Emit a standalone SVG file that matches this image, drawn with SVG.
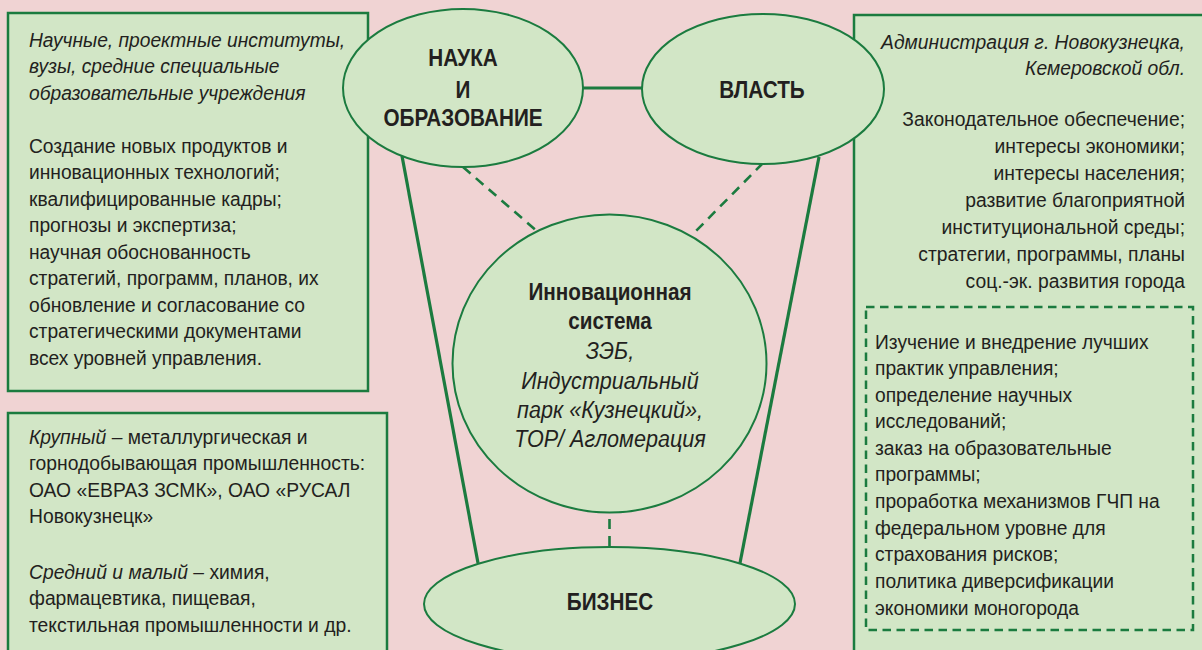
<svg xmlns="http://www.w3.org/2000/svg" width="1202" height="650" viewBox="0 0 1202 650">
<style>
.bg{fill:#f0d3d3}
.box{fill:#d2e6c6;stroke:#1b7b3f;stroke-width:2.5}
.node{fill:#d2e6c6;stroke:#1b7b3f;stroke-width:2}
.dbox{fill:none;stroke:#1b7b3f;stroke-width:2.5;stroke-dasharray:8.5 5.5}
.solid{stroke:#1b7b3f;stroke-width:3.2;fill:none}
.dash{stroke:#1b7b3f;stroke-width:2.6;fill:none;stroke-dasharray:10 7}
text{font-family:"Liberation Sans",Arial,sans-serif;fill:#231f20}
.t{font-size:21px}
.i{font-style:italic}
.b{font-weight:bold;font-size:23px}
.e{text-anchor:end}
.m{text-anchor:middle}
</style>
<rect class="bg" x="0" y="0" width="1202" height="650"/>
<g id="box-science">
<rect class="box" x="8" y="13" width="360" height="378"/>
<text class="t" transform="translate(29 0) scale(0.915 1)"><tspan class="i" x="0" y="47">Научные, проектные институты,</tspan><tspan class="i" x="0" y="73.5">вузы, средние специальные</tspan><tspan class="i" x="0" y="100">образовательные учреждения</tspan><tspan x="0" y="153">Создание новых продуктов и</tspan><tspan x="0" y="179.5">инновационных технологий;</tspan><tspan x="0" y="206">квалифицированные кадры;</tspan><tspan x="0" y="232.5">прогнозы и экспертиза;</tspan><tspan x="0" y="259">научная обоснованность</tspan><tspan x="0" y="285.5">стратегий, программ, планов, их</tspan><tspan x="0" y="312">обновление и согласование со</tspan><tspan x="0" y="338.5">стратегическими документами</tspan><tspan x="0" y="365">всех уровней управления.</tspan></text>
</g>
<g id="box-business">
<rect class="box" x="8" y="413" width="379" height="250"/>
<text class="t" transform="translate(29 0) scale(0.92 1)"><tspan x="0" y="444"><tspan class="i">Крупный</tspan> – металлургическая и</tspan><tspan x="0" y="470.5">горнодобывающая промышленность:</tspan><tspan x="0" y="497">ОАО «ЕВРАЗ ЗСМК», ОАО «РУСАЛ</tspan><tspan x="0" y="523.5">Новокузнецк»</tspan><tspan x="0" y="579"><tspan class="i">Средний и малый</tspan> – химия,</tspan><tspan x="0" y="605.5">фармацевтика, пищевая,</tspan><tspan x="0" y="632">текстильная промышленности и др.</tspan></text>
</g>
<g id="box-power">
<rect class="box" x="854" y="15" width="360" height="650"/>
<text class="t e" transform="translate(1185 0) scale(0.92 1)"><tspan class="i" x="0" y="49">Администрация г. Новокузнецка,</tspan><tspan class="i" x="0" y="75.5">Кемеровской обл.</tspan><tspan x="0" y="126">Законодательное обеспечение;</tspan><tspan x="0" y="153">интересы экономики;</tspan><tspan x="0" y="180">интересы населения;</tspan><tspan x="0" y="207">развитие благоприятной</tspan><tspan x="0" y="234">институциональной среды;</tspan><tspan x="0" y="261">стратегии, программы, планы</tspan><tspan x="0" y="288">соц.-эк. развития города</tspan></text>
</g>
<g id="box-power-tasks">
<rect class="dbox" x="866" y="307" width="327" height="323"/>
<text class="t" transform="translate(875 0) scale(0.915 1)"><tspan x="0" y="349">Изучение и внедрение лучших</tspan><tspan x="0" y="375.5">практик управления;</tspan><tspan x="0" y="402">определение научных</tspan><tspan x="0" y="428.5">исследований;</tspan><tspan x="0" y="455">заказ на образовательные</tspan><tspan x="0" y="481.5">программы;</tspan><tspan x="0" y="508.5">проработка механизмов ГЧП на</tspan><tspan x="0" y="535">федеральном уровне для</tspan><tspan x="0" y="561.5">страхования рисков;</tspan><tspan x="0" y="588.5">политика диверсификации</tspan><tspan x="0" y="615">экономики моногорода</tspan></text>
</g>
<g id="connectors">
<line class="solid" x1="583" y1="88" x2="642" y2="88"/>
<line class="solid" x1="402" y1="156" x2="478" y2="563"/>
<line class="solid" x1="819" y1="157" x2="740" y2="563"/>
<line class="dash" x1="463" y1="167" x2="538" y2="232"/>
<line class="dash" x1="763" y1="163" x2="695" y2="232"/>
<line class="dash" x1="609.5" y1="519" x2="609.5" y2="547"/>
</g>
<g id="node-science">
<ellipse class="node" cx="463" cy="88" rx="120" ry="79"/>
<text class="b m" transform="translate(463 0) scale(0.9 1)"><tspan x="0" y="66">НАУКА</tspan><tspan x="0" y="98">И</tspan><tspan x="0" y="126.5">ОБРАЗОВАНИЕ</tspan></text>
</g>
<g id="node-power">
<ellipse class="node" cx="763" cy="89" rx="121" ry="75"/>
<text class="b m" transform="translate(762 0) scale(0.9 1)" x="0" y="98.5">ВЛАСТЬ</text>
</g>
<g id="node-innovation">
<ellipse class="node" cx="609.5" cy="363.5" rx="157" ry="149"/>
<text class="m" transform="translate(610 0) scale(0.9 1)"><tspan class="b" x="0" y="300">Инновационная</tspan><tspan class="b" x="0" y="329">система</tspan><tspan class="i" x="0" y="359" style="font-size:24px">ЗЭБ,</tspan><tspan class="i" x="0" y="389" style="font-size:24px">Индустриальный</tspan><tspan class="i" x="0" y="418" style="font-size:24px">парк «Кузнецкий»,</tspan><tspan class="i" x="0" y="447" style="font-size:24px">ТОР/ Агломерация</tspan></text>
</g>
<g id="node-business">
<ellipse class="node" cx="609.5" cy="604" rx="185.5" ry="57"/>
<text class="b m" transform="translate(610 0) scale(0.9 1)" x="0" y="610.5">БИЗНЕС</text>
</g>
</svg>
